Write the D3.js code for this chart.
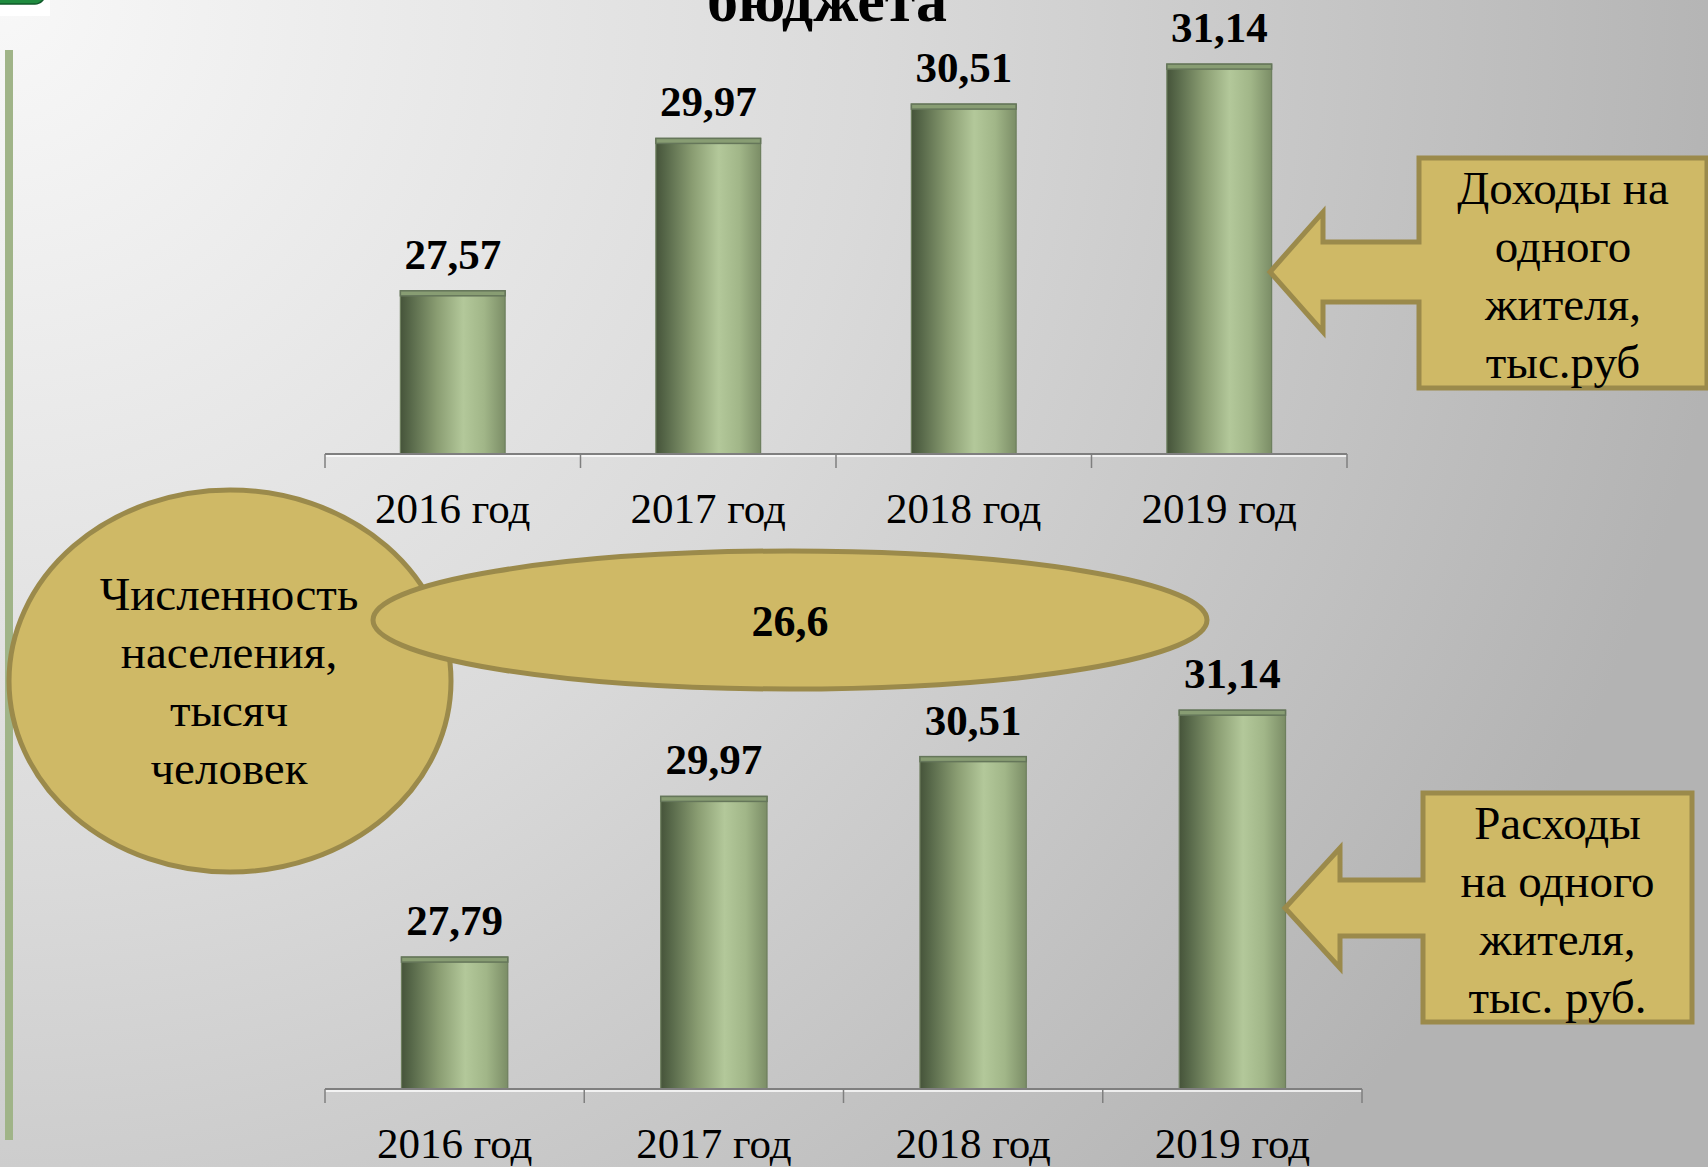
<!DOCTYPE html>
<html>
<head>
<meta charset="utf-8">
<script src="https://cdn.jsdelivr.net/npm/d3@7"></script>
<style>
  html, body { margin: 0; padding: 0; overflow: hidden; }
  svg { display: block; }
  text { font-family: "Liberation Serif", "Times New Roman", serif; fill: #000; }
</style>
</head>
<body>
<div class="vis"></div>
<script>
const years = ["2016 год", "2017 год", "2018 год", "2019 год"];
const incomePerResident = [27.57, 29.97, 30.51, 31.14];
const expensePerResident = [27.79, 29.97, 30.51, 31.14];
const population = 26.6;
const titleText = "бюджета";
const incomeLabel = ["Доходы на", "одного", "жителя,", "тыс.руб"];
const expenseLabel = ["Расходы", "на одного", "жителя,", "тыс. руб."];
const populationLabel = ["Численность", "населения,", "тысяч", "человек"];

const width = 1708, height = 1167;
const ru = d3.formatLocale({ decimal: ",", thousands: " ", grouping: [3], currency: ["", " ₽"] });
const fmt2 = ru.format(".2f"), fmt1 = ru.format(".1f");

const svg = d3.select(".vis").append("svg")
    .attr("width", width)
    .attr("height", height)
    .attr("viewBox", "0 0 " + width + " " + height);

const defs = svg.append("defs");

// background: light in the top left corner, grey towards the right
const bg = defs.append("radialGradient")
    .attr("id", "bg").attr("gradientUnits", "userSpaceOnUse")
    .attr("cx", 0).attr("cy", 0).attr("r", 1750);
bg.append("stop").attr("offset", 0).attr("stop-color", "#f8f8f8");
bg.append("stop").attr("offset", 0.5).attr("stop-color", "#dadada");
bg.append("stop").attr("offset", 1).attr("stop-color", "#b3b3b3");

// cylinder look of the bars
const barGrad = defs.append("linearGradient")
    .attr("id", "bar").attr("x1", 0).attr("x2", 1).attr("y1", 0).attr("y2", 0);
[[0, "#46543a"], [0.1, "#58694a"], [0.35, "#8a9d72"], [0.6, "#b3c89a"], [0.8, "#a1b688"], [1, "#7b8d66"]]
    .forEach(s => barGrad.append("stop").attr("offset", s[0]).attr("stop-color", s[1]));

svg.append("rect").attr("width", width).attr("height", height).attr("fill", "url(#bg)");

// slide decorations
svg.append("rect").attr("x", 0).attr("y", 0).attr("width", 50).attr("height", 16).attr("fill", "#fff");
svg.append("rect").attr("x", -20).attr("y", -30).attr("width", 65).attr("height", 34).attr("rx", 10)
    .attr("fill", "#1f8b3f").attr("stroke", "#10592a").attr("stroke-width", 1.5);
svg.append("rect").attr("x", 5).attr("y", 50).attr("width", 8).attr("height", 1090).attr("fill", "#a0b488");

svg.append("text")
    .attr("x", 827).attr("y", 21)
    .attr("text-anchor", "middle")
    .attr("font-size", 62).attr("font-weight", "bold")
    .text(titleText);

function drawChart(values, cfg) {
    const g = svg.append("g");
    const x = d3.scaleBand().domain(years).range(cfg.xRange).padding(0);
    const y = d3.scaleLinear().domain(cfg.yDomain).range(cfg.yRange);
    const base = y(cfg.yDomain[0]);
    const bw = x.bandwidth() * 0.41;

    const bars = g.selectAll(".bar").data(values).enter().append("g");
    bars.append("rect")
        .attr("x", (d, i) => x(years[i]) + (x.bandwidth() - bw) / 2)
        .attr("y", d => y(d))
        .attr("width", bw)
        .attr("height", d => base - y(d))
        .attr("fill", "url(#bar)")
        .attr("stroke", "#6e7f5e").attr("stroke-width", 1.2);
    bars.append("rect")
        .attr("x", (d, i) => x(years[i]) + (x.bandwidth() - bw) / 2)
        .attr("y", d => y(d))
        .attr("width", bw)
        .attr("height", 5)
        .attr("fill", "#889d73")
        .attr("stroke", "#65765a").attr("stroke-width", 1.5);

    // axis line with the tick marks between the categories
    g.append("line")
        .attr("x1", cfg.xRange[0]).attr("x2", cfg.xRange[1])
        .attr("y1", base + 2).attr("y2", base + 2)
        .attr("stroke", "#ffffff").attr("stroke-width", 1.5);
    g.append("line")
        .attr("x1", cfg.xRange[0]).attr("x2", cfg.xRange[1])
        .attr("y1", base).attr("y2", base)
        .attr("stroke", "#7f7f7f").attr("stroke-width", 2);
    const edges = years.map(d => x(d)).concat([cfg.xRange[1]]);
    g.selectAll(".tick").data(edges).enter().append("line")
        .attr("x1", d => d).attr("x2", d => d)
        .attr("y1", base).attr("y2", base + 14)
        .attr("stroke", "#7f7f7f").attr("stroke-width", 1.5);

    g.selectAll(".cat").data(years).enter().append("text")
        .attr("x", d => x(d) + x.bandwidth() / 2)
        .attr("y", base + 69)
        .attr("text-anchor", "middle")
        .attr("font-size", 43)
        .text(d => d);

    g.selectAll(".val").data(values).enter().append("text")
        .attr("x", (d, i) => x(years[i]) + x.bandwidth() / 2)
        .attr("y", d => y(d) - 22)
        .attr("text-anchor", "middle")
        .attr("font-size", 43).attr("font-weight", "bold")
        .text(d => fmt2(d));
}

drawChart(incomePerResident, { xRange: [325, 1347], yDomain: [25, 32], yRange: [454, 9.5] });
drawChart(expensePerResident, { xRange: [325, 1362], yDomain: [26, 32], yRange: [1089, 646.8] });

const gold = "#cfb966", goldLine = "#9b8a4b";

function lines(arr, cx, y0, step, size) {
    arr.forEach((t, i) => {
        svg.append("text")
            .attr("x", cx).attr("y", y0 + i * step)
            .attr("text-anchor", "middle")
            .attr("font-size", size)
            .text(t);
    });
}

// population bubble
svg.append("ellipse").attr("cx", 230).attr("cy", 681).attr("rx", 221).attr("ry", 191)
    .attr("fill", gold).attr("stroke", goldLine).attr("stroke-width", 5);
svg.append("ellipse").attr("cx", 790).attr("cy", 620).attr("rx", 417).attr("ry", 69)
    .attr("fill", gold).attr("stroke", goldLine).attr("stroke-width", 5);
lines(populationLabel, 229, 610, 58, 47);
svg.append("text")
    .attr("x", 790).attr("y", 636)
    .attr("text-anchor", "middle")
    .attr("font-size", 44).attr("font-weight", "bold")
    .text(fmt1(population));

// left-pointing arrow callouts
function callout(c, textLines) {
    const p = d3.path();
    p.moveTo(c.x, c.y);
    p.lineTo(c.x + c.w, c.y);
    p.lineTo(c.x + c.w, c.y + c.h);
    p.lineTo(c.x, c.y + c.h);
    p.lineTo(c.x, c.tipY + c.shaft);
    p.lineTo(c.headX, c.tipY + c.shaft);
    p.lineTo(c.headX, c.tipY + c.head);
    p.lineTo(c.tipX, c.tipY);
    p.lineTo(c.headX, c.tipY - c.head);
    p.lineTo(c.headX, c.tipY - c.shaft);
    p.lineTo(c.x, c.tipY - c.shaft);
    p.closePath();
    svg.append("path").attr("d", p.toString())
        .attr("fill", gold).attr("stroke", goldLine).attr("stroke-width", 5)
        .attr("stroke-linejoin", "miter");
    lines(textLines, c.x + c.w / 2, c.y + 46, 58, 47);
}

callout({ x: 1419, y: 158, w: 288, h: 230, tipX: 1270, tipY: 272, headX: 1323, head: 60, shaft: 30 }, incomeLabel);
callout({ x: 1423, y: 793, w: 269, h: 229, tipX: 1285, tipY: 908, headX: 1340, head: 60, shaft: 28 }, expenseLabel);
</script>
</body>
</html>
